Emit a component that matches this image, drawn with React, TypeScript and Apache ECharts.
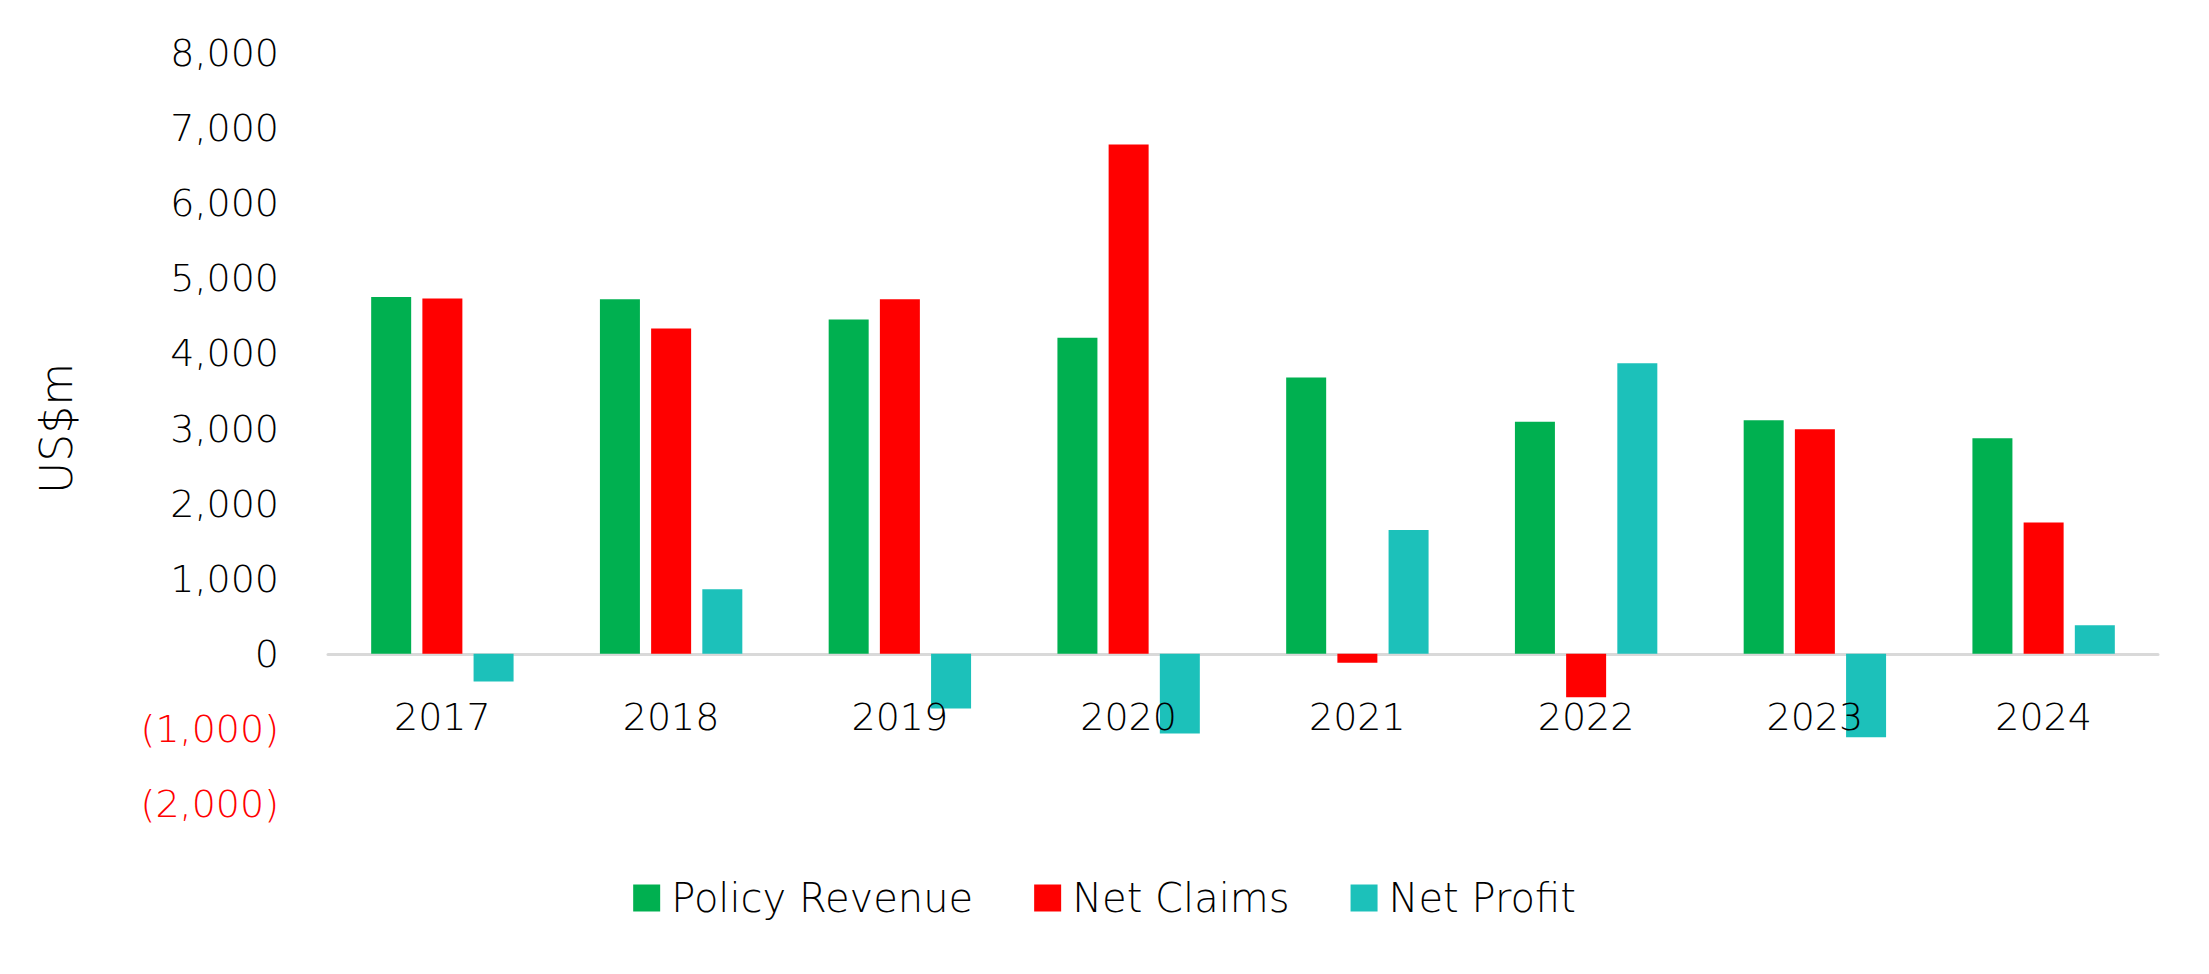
import React, { useEffect, useRef } from "react";
import * as echarts from "echarts";

const categories = ["2017", "2018", "2019", "2020", "2021", "2022", "2023", "2024"];
const policyRevenue = [4750, 4720, 4450, 4210, 3680, 3090, 3110, 2870];
const netClaims = [4730, 4330, 4720, 6780, -120, -580, 2990, 1750];
const netProfit = [-370, 860, -730, -1060, 1650, 3870, -1110, 380];

const FONT = "'DejaVu Sans', 'Open Sans', sans-serif";
const TXT = "#000000";

export default function App() {
  const ref = useRef<HTMLDivElement>(null);
  useEffect(() => {
    document.body.style.margin = "0";
    const chart = echarts.init(ref.current!, null, { renderer: "svg" });
    const barW = 40;
    chart.setOption({
      animation: false,
      backgroundColor: "#ffffff",
      textStyle: { fontFamily: FONT },
      grid: { left: 328, right: 51, top: 53, bottom: 170, containLabel: false },
      legend: {
        bottom: 51,
        left: "center",
        itemWidth: 27,
        itemHeight: 27,
        itemGap: 61,
        icon: "rect",
        textStyle: { fontSize: 40, fontWeight: 300, color: TXT, fontFamily: FONT, padding: [0, 0, 0, 6] },
        data: ["Policy Revenue", "Net Claims", "Net Profit"],
      },
      xAxis: [
        {
          type: "category",
          data: categories,
          axisLine: { onZero: true, lineStyle: { color: "#d9d9d9", width: 3 } },
          axisTick: { show: false },
          axisLabel: { show: false },
        },
        {
          type: "category",
          data: categories,
          position: "bottom",
          offset: -150,
          z: 5,
          axisLine: { show: false, onZero: false },
          axisTick: { show: false },
          axisLabel: { fontSize: 38, fontWeight: 300, color: TXT, margin: 44, fontFamily: FONT },
        },
      ],
      yAxis: {
        type: "value",
        min: -2000,
        max: 8000,
        interval: 1000,
        name: "US$m",
        nameLocation: "middle",
        nameGap: 250,
        nameRotate: 90,
        nameTextStyle: { fontSize: 44, fontWeight: 300, color: TXT, fontFamily: FONT },
        axisLine: { show: false },
        axisTick: { show: false },
        splitLine: { show: false },
        axisLabel: {
          margin: 49,
          fontSize: 38,
          fontWeight: 300,
          fontFamily: FONT,
          color: TXT,
          formatter: (v: number) => {
            const s = Math.abs(v).toLocaleString("en-US");
            return v < 0 ? `{neg|(${s})}` : s;
          },
          rich: { neg: { color: "#ff0000", fontSize: 38, fontWeight: 300, fontFamily: FONT } },
        },
      },
      series: [
        { name: "Policy Revenue", type: "bar", data: policyRevenue, barWidth: barW, barGap: "28%", itemStyle: { color: "#00b050" } },
        { name: "Net Claims", type: "bar", data: netClaims, barWidth: barW, barGap: "28%", itemStyle: { color: "#ff0000" } },
        { name: "Net Profit", type: "bar", data: netProfit, barWidth: barW, barGap: "28%", itemStyle: { color: "#1cc1ba" } },
      ],
    });
    return () => chart.dispose();
  }, []);
  return <div ref={ref} style={{ width: 2209, height: 974 }} />;
}
